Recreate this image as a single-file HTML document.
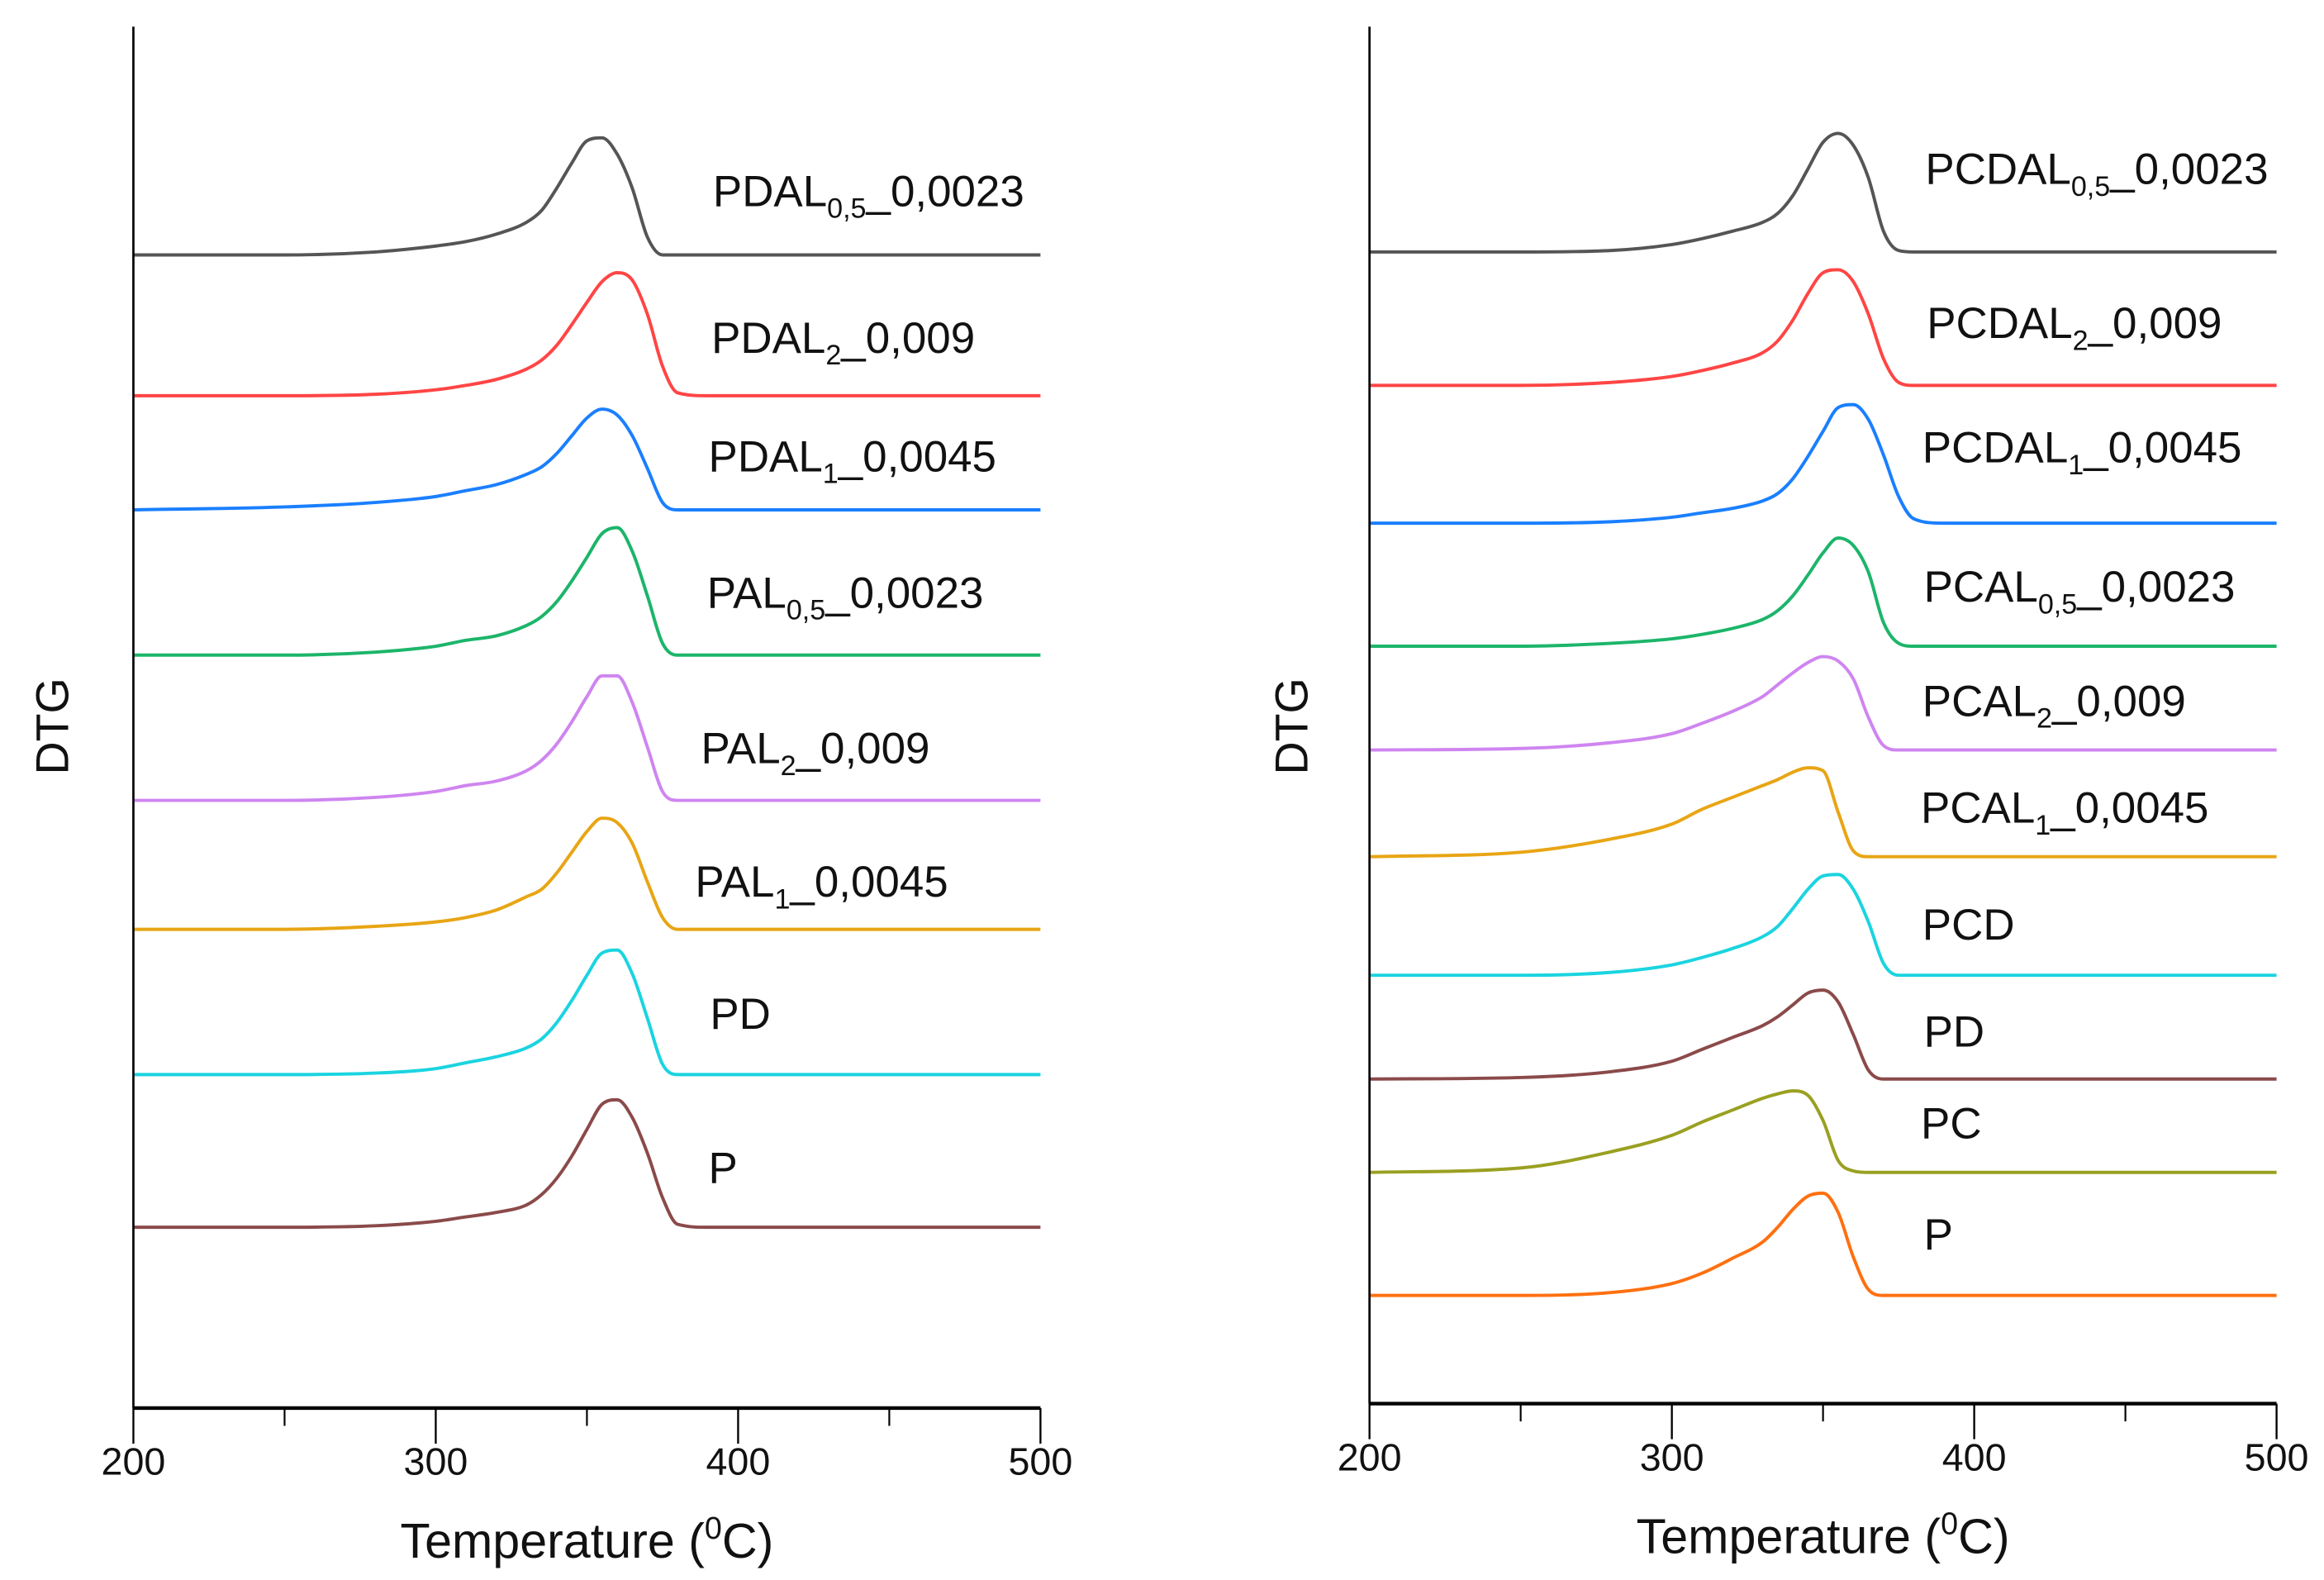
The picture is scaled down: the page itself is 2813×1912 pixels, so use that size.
<!DOCTYPE html>
<html><head><meta charset="utf-8"><style>
html,body{margin:0;padding:0;background:#fff;}
svg{display:block;font-family:"Liberation Sans",Arial,sans-serif;}
</style></head><body>
<svg id="chart" width="2813" height="1912" viewBox="0 0 1568 1066" preserveAspectRatio="none" xmlns="http://www.w3.org/2000/svg">
<g id="left"></g>
<g id="right"></g>
</svg>
<script>
const temps = [200,250,280,300,310,320,330,335,340,345,350,355,360,365,370,375,380,390,500];
const xTicks = [200,300,400,500];
const xMinor = [250,350,450];

const leftNames = ["PDAL|0,5|_0,0023","PDAL|2|_0,009","PDAL|1|_0,0045","PAL|0,5|_0,0023","PAL|2|_0,009","PAL|1|_0,0045","PD","P"];
const leftColors = ["#555555","#ff4545","#1a7fff","#1cb56a","#cf85f0","#e8a514","#1ad4e0","#8b4a4a"];
const leftBaselines = [172,267,344,442,540,627,725,828];
const leftLabelPos = [[481,139],[480,238],[478,318],[477,410],[473,515],[469,605],[479,694],[478,798]];
const leftValues = [
 [0,0,2,6,9,14,22,30,45,62,77,79,68,45,12,0,0,0,0],
 [0,0,1,4,7,11,18,24,34,48,63,77,83,78,55,20,2,0,0],
 [0,2,5,9,13,17,24,29,38,50,62,68,64,50,28,5,0,0,0],
 [0,0,2,6,10,13,20,26,36,50,66,82,86,70,40,8,0,0,0],
 [0,0,2,6,10,13,20,27,38,53,70,84,84,66,36,6,0,0,0],
 [0,0,2,5,8,13,22,27,38,52,66,75,72,58,32,8,0,0,0],
 [0,0,1,4,8,12,18,24,35,50,67,82,84,68,38,7,0,0,0],
 [0,0,1,4,7,10,15,22,33,48,66,83,86,74,50,20,2,0,0]
];

const rightNames = ["PCDAL|0,5|_0,0023","PCDAL|2|_0,009","PCDAL|1|_0,0045","PCAL|0,5|_0,0023","PCAL|2|_0,009","PCAL|1|_0,0045","PCD","PD","PC","P"];
const rightColors = ["#555555","#ff4545","#1a7fff","#1cb56a","#cf85f0","#e8a514","#1ad4e0","#8b4a4a","#9aa020","#ff7010"];
const rightBaselines = [170,260,353,436,506,578,658,728,791,874];
const rightLabelPos = [[1299,124],[1300,228],[1297,312],[1298,406],[1297,483],[1296,555],[1297,634],[1298,706],[1296,768],[1298,843]];
const rightValues = [
 [0,0,1,5,9,14,20,26,38,56,74,80,72,50,14,1,0,0,0],
 [0,0,2,6,10,15,22,30,44,62,76,78,70,48,18,2,0,0,0],
 [0,0,1,4,7,10,15,20,30,45,62,78,80,70,46,18,3,0,0],
 [0,0,2,5,8,12,18,24,34,48,63,73,68,50,16,2,0,0,0],
 [0,1,5,11,18,26,36,44,52,59,63,60,48,22,3,0,0,0,0],
 [0,3,12,22,32,40,48,52,57,60,58,30,4,0,0,0,0,0,0],
 [0,0,2,7,12,18,26,33,45,58,67,68,58,36,8,0,0,0,0],
 [0,1,5,12,20,28,36,42,50,58,60,52,30,6,0,0,0,0,0],
 [0,3,14,25,34,42,50,53,55,52,35,8,1,0,0,0,0,0,0],
 [0,0,2,8,15,25,36,46,58,67,69,56,26,4,0,0,0,0,0]
];

const NS="http://www.w3.org/2000/svg";
function mk(tag,attrs,parent){const e=document.createElementNS(NS,tag);for(const k in attrs)e.setAttribute(k,attrs[k]);parent.appendChild(e);return e;}

// monotone cubic (Fritsch-Carlson) to avoid overshoot
function smoothPath(pts){
  const n=pts.length, d=[], m=new Array(n);
  for(let i=0;i<n-1;i++) d.push((pts[i+1][1]-pts[i][1])/(pts[i+1][0]-pts[i][0]));
  m[0]=d[0]; m[n-1]=d[n-2];
  for(let i=1;i<n-1;i++){ m[i]=(d[i-1]*d[i]<=0)?0:(d[i-1]+d[i])/2; }
  for(let i=0;i<n-1;i++){
    if(d[i]===0){m[i]=0;m[i+1]=0;continue;}
    const a=m[i]/d[i], b=m[i+1]/d[i], s=a*a+b*b;
    if(s>9){const t=3/Math.sqrt(s);m[i]=t*a*d[i];m[i+1]=t*b*d[i];}
  }
  let p="M"+pts[0][0].toFixed(2)+","+pts[0][1].toFixed(2);
  for(let i=0;i<n-1;i++){
    const h=(pts[i+1][0]-pts[i][0])/3;
    p+=" C"+(pts[i][0]+h).toFixed(2)+","+(pts[i][1]+m[i]*h).toFixed(2)+" "+(pts[i+1][0]-h).toFixed(2)+","+(pts[i+1][1]-m[i+1]*h).toFixed(2)+" "+pts[i+1][0].toFixed(2)+","+pts[i+1][1].toFixed(2);
  }
  return p;
}

function panel(g,x0,x1,yTop,yAxis,names,colors,baselines,labelPos,values,dtgX){
  const xs=t=>x0+(t-200)/300*(x1-x0);
  const ys=(b,v)=>b-v;
  for(let s=0;s<values.length;s++){
    const pts=temps.map((t,i)=>[xs(t),ys(baselines[s],values[s][i])]);
    const p=mk("path",{d:smoothPath(pts),fill:"none",stroke:colors[s],"stroke-width":2.2,"stroke-linejoin":"round"},g);
    
    
    const parts=names[s].split("|");
    const tx=mk("text",{x:labelPos[s][0],y:labelPos[s][1],"font-size":29.5,fill:"#111"},g);
    
    
    if(parts.length===1){tx.textContent=parts[0];}
    else{
      const a=mk("tspan",{},tx);a.textContent=parts[0];
      const b=mk("tspan",{"font-size":19,dy:8},tx);b.textContent=parts[1];
      const c=mk("tspan",{dy:-8},tx);c.textContent=parts[2];
    }
  }
  const ax=mk("line",{x1:x0,y1:yTop,x2:x0,y2:yAxis,stroke:"#000","stroke-width":1.5},g);
  
  
  const bx=mk("line",{x1:x0,y1:yAxis,x2:x1,y2:yAxis,stroke:"#000","stroke-width":2.4},g);
  
  
  xTicks.forEach(t=>{
    const l=mk("line",{x1:xs(t),y1:yAxis,x2:xs(t),y2:yAxis+24,stroke:"#000","stroke-width":1.3},g);
    
    
    const tl=mk("text",{x:xs(t),y:yAxis+45,"font-size":26,"text-anchor":"middle",fill:"#111"},g);
    
    
    tl.textContent=t;
  });
  xMinor.forEach(t=>{
    const l=mk("line",{x1:xs(t),y1:yAxis,x2:xs(t),y2:yAxis+12,stroke:"#000","stroke-width":1.2},g);
    
    
  });
  const tt=mk("text",{x:(x0+x1)/2,y:yAxis+101,"font-size":33,"text-anchor":"middle",fill:"#111"},g);
  
  
  const t1=mk("tspan",{},tt);t1.textContent="Temperature (";
  const t2=mk("tspan",{"font-size":21,dy:-13},tt);t2.textContent="0";
  const t3=mk("tspan",{dy:13},tt);t3.textContent="C)";
  const yt=mk("text",{x:dtgX,y:490,"font-size":31,"text-anchor":"middle",fill:"#111",transform:"rotate(-90 "+dtgX+" 490)"},g);
  
  
  yt.textContent="DTG";
}
panel(document.getElementById("left"),90,702,18,950,leftNames,leftColors,leftBaselines,leftLabelPos,leftValues,46);
panel(document.getElementById("right"),924,1536,18,947,rightNames,rightColors,rightBaselines,rightLabelPos,rightValues,882);
</script>
</body></html>
